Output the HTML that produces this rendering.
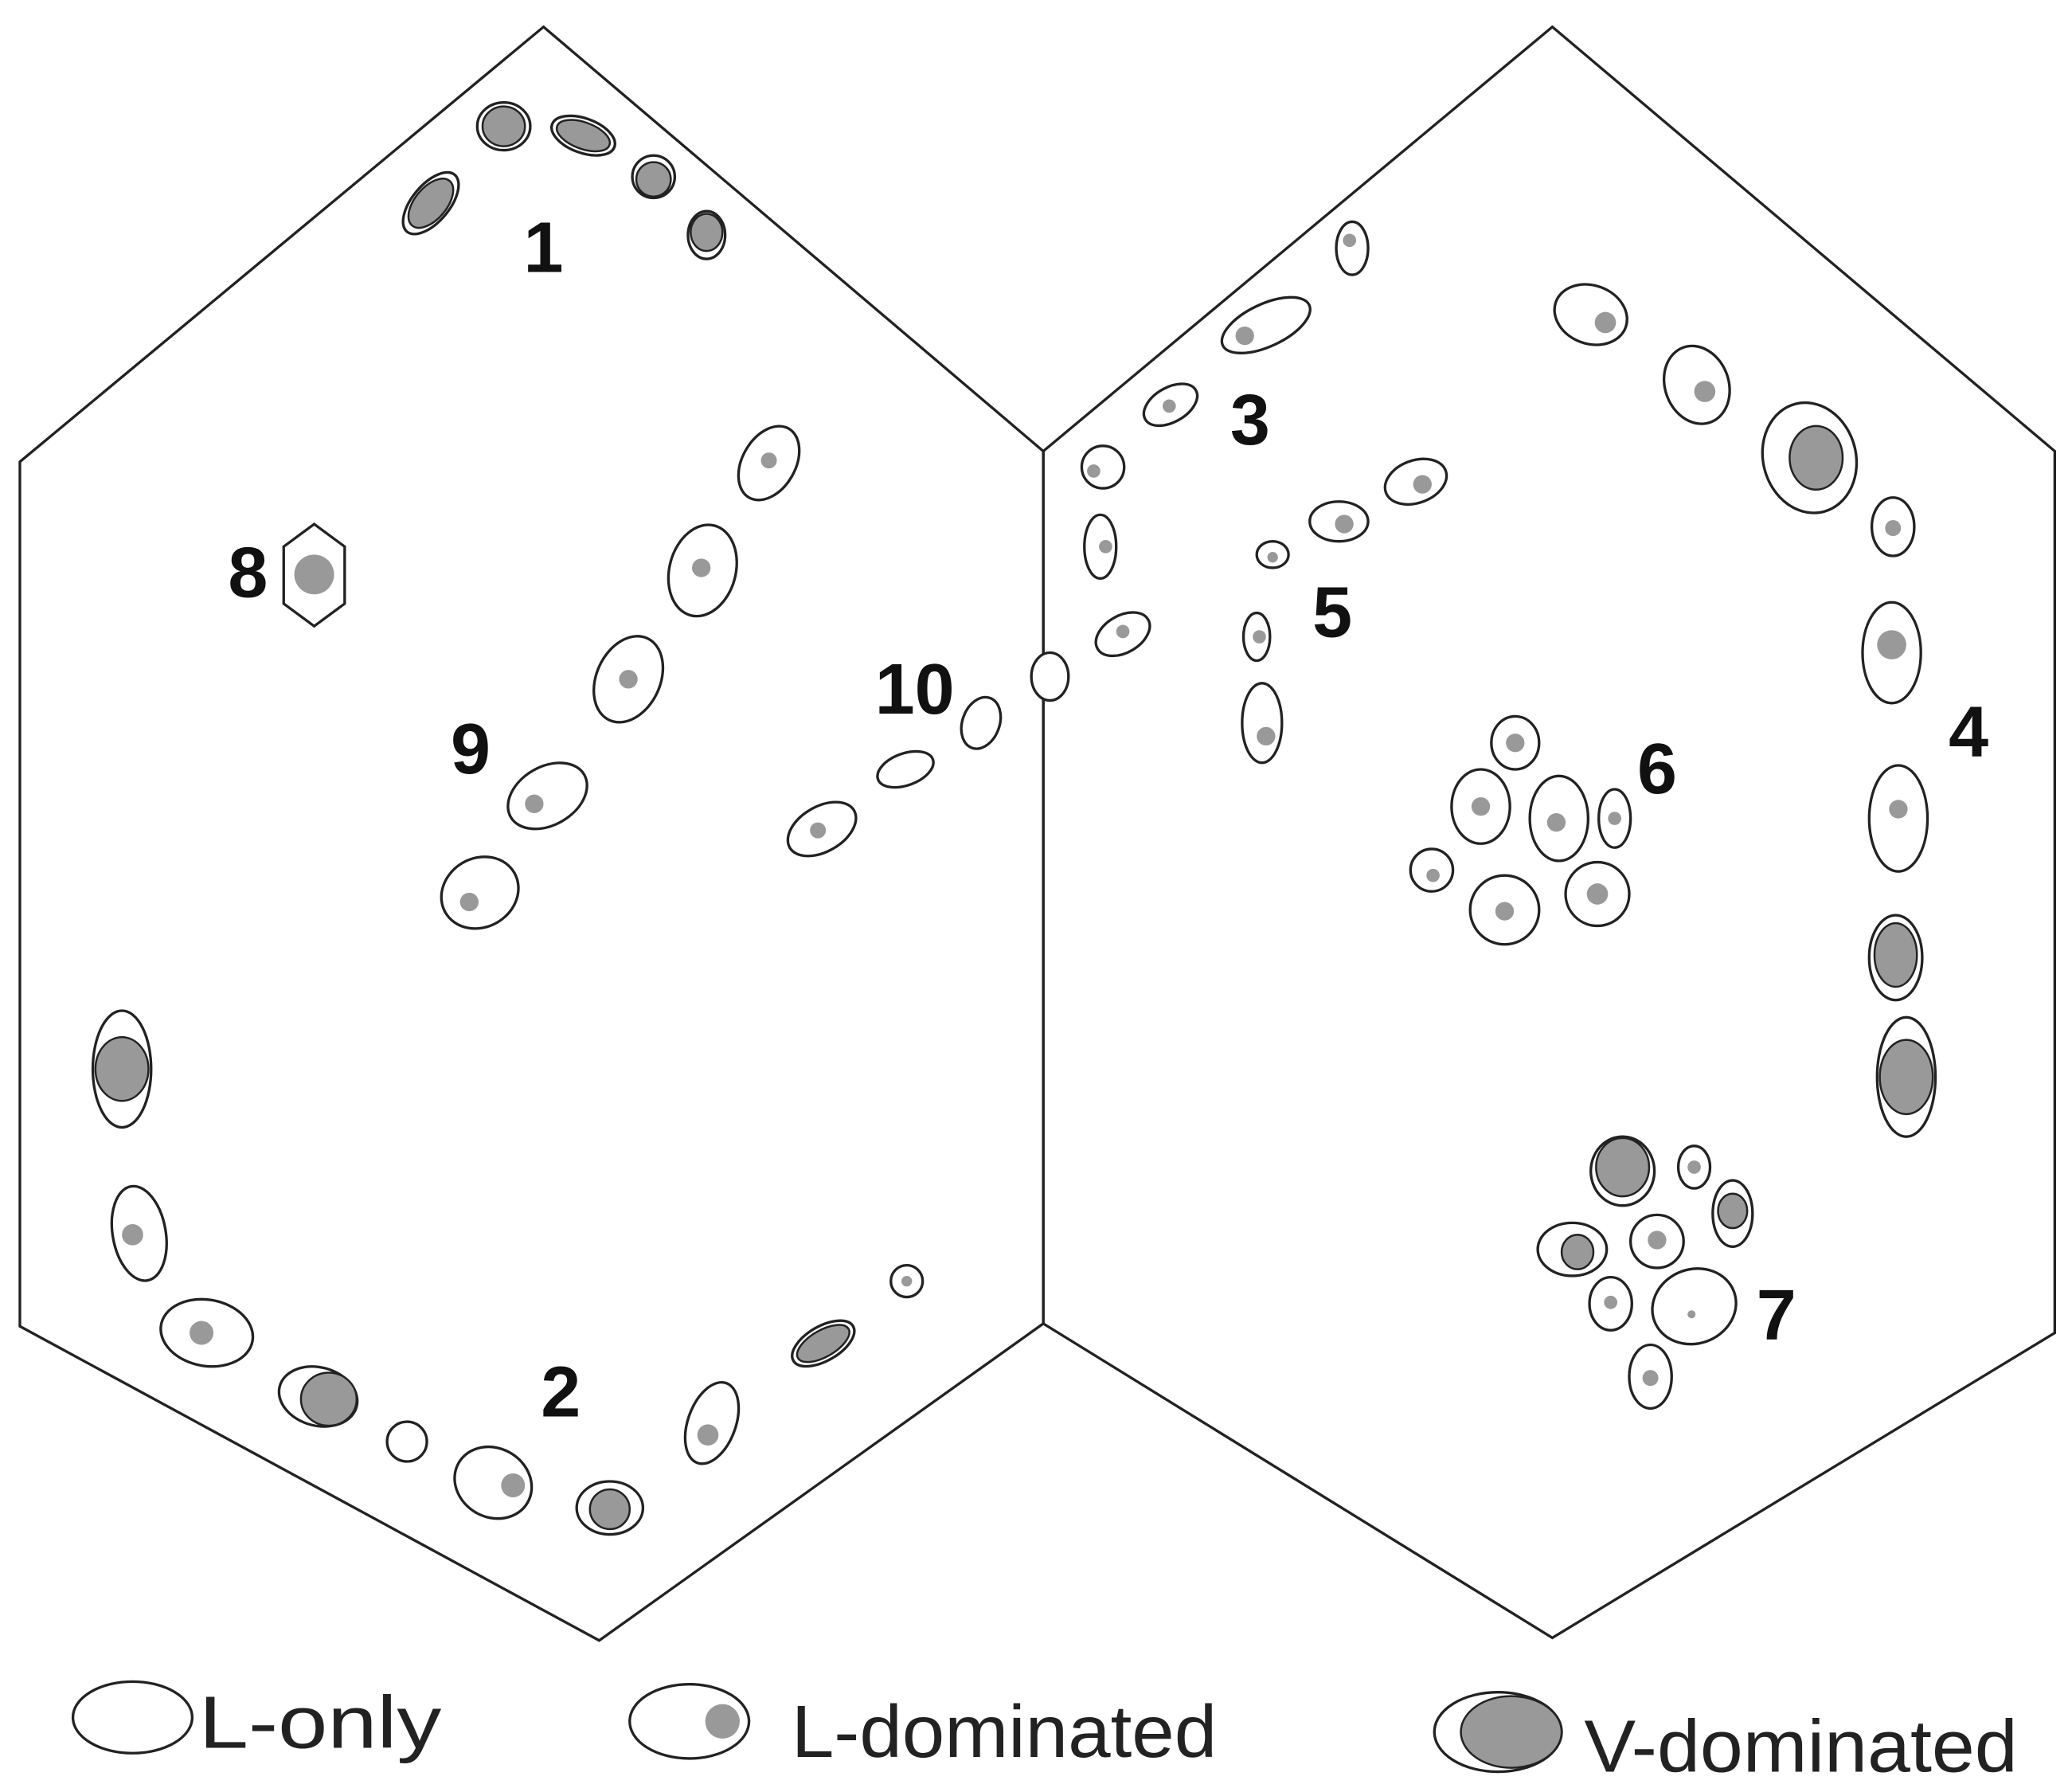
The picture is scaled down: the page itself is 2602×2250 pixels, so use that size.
<!DOCTYPE html>
<html><head><meta charset="utf-8"><style>html,body{margin:0;padding:0;background:#fff}svg{display:block}</style></head>
<body>
<svg width="2602" height="2250" viewBox="0 0 1563 1351" xmlns="http://www.w3.org/2000/svg" font-family="Liberation Sans, sans-serif">
<g fill="none" stroke="#222" stroke-width="2">
<polygon points="410,20 787,340 787,998 452,1237 15,1000 15,348"/>
<polygon points="1171,20 1550,340 1550,1005 1171,1235 787,998 787,340"/>
</g>
<g stroke="#222" stroke-width="2" fill="#fff">
<ellipse cx="325" cy="153" rx="14" ry="28" transform="rotate(40 325 153)"/>
<ellipse cx="380" cy="95" rx="20" ry="18"/>
<ellipse cx="440" cy="102" rx="25" ry="13" transform="rotate(20 440 102)"/>
<ellipse cx="493" cy="133" rx="16" ry="16"/>
<ellipse cx="533" cy="177" rx="14" ry="18"/>
<ellipse cx="1365" cy="345" rx="35" ry="42" transform="rotate(-15 1365 345)"/>
<ellipse cx="1430" cy="722" rx="20" ry="32"/>
<ellipse cx="1438" cy="812" rx="22" ry="45"/>
<ellipse cx="1224" cy="883" rx="24" ry="26"/>
<ellipse cx="1307" cy="915" rx="15" ry="25"/>
<ellipse cx="1186" cy="942" rx="26" ry="20"/>
<ellipse cx="92" cy="806" rx="22" ry="44"/>
<ellipse cx="240" cy="1053" rx="30" ry="22" transform="rotate(15 240 1053)"/>
<ellipse cx="460" cy="1137" rx="25" ry="20"/>
<ellipse cx="621" cy="1013" rx="26" ry="13" transform="rotate(-30 621 1013)"/>
<ellipse cx="580" cy="349" rx="20" ry="30" transform="rotate(30 580 349)"/>
<ellipse cx="530" cy="430" rx="25" ry="35" transform="rotate(15 530 430)"/>
<ellipse cx="474" cy="512" rx="24" ry="34" transform="rotate(25 474 512)"/>
<ellipse cx="413" cy="600" rx="32" ry="22" transform="rotate(-30 413 600)"/>
<ellipse cx="362" cy="673" rx="30" ry="26" transform="rotate(-30 362 673)"/>
<ellipse cx="620" cy="625" rx="28" ry="17" transform="rotate(-30 620 625)"/>
<ellipse cx="683" cy="580" rx="22" ry="12" transform="rotate(-20 683 580)"/>
<ellipse cx="740" cy="545" rx="14" ry="20" transform="rotate(20 740 545)"/>
<ellipse cx="792" cy="510" rx="14" ry="18"/>
<ellipse cx="847" cy="478" rx="22" ry="14" transform="rotate(-30 847 478)"/>
<ellipse cx="1020" cy="187" rx="12" ry="20"/>
<ellipse cx="955" cy="245" rx="36" ry="16" transform="rotate(-25 955 245)"/>
<ellipse cx="883" cy="305" rx="22" ry="13" transform="rotate(-30 883 305)"/>
<ellipse cx="832" cy="352" rx="16" ry="16"/>
<ellipse cx="830" cy="412" rx="12" ry="24"/>
<ellipse cx="1068" cy="363" rx="24" ry="16" transform="rotate(-20 1068 363)"/>
<ellipse cx="1010" cy="393" rx="22" ry="15"/>
<ellipse cx="960" cy="418" rx="12" ry="10"/>
<ellipse cx="948" cy="480" rx="10" ry="18"/>
<ellipse cx="952" cy="545" rx="15" ry="30"/>
<ellipse cx="1200" cy="237" rx="28" ry="22" transform="rotate(20 1200 237)"/>
<ellipse cx="1280" cy="290" rx="24" ry="30" transform="rotate(-20 1280 290)"/>
<ellipse cx="1428" cy="397" rx="16" ry="22"/>
<ellipse cx="1427" cy="492" rx="22" ry="38"/>
<ellipse cx="1432" cy="617" rx="22" ry="40"/>
<ellipse cx="1143" cy="560" rx="18" ry="20"/>
<ellipse cx="1117" cy="608" rx="22" ry="28"/>
<ellipse cx="1176" cy="617" rx="22" ry="32"/>
<ellipse cx="1218" cy="617" rx="12" ry="22"/>
<ellipse cx="1080" cy="656" rx="16" ry="16"/>
<ellipse cx="1135" cy="686" rx="26" ry="26"/>
<ellipse cx="1205" cy="674" rx="24" ry="24"/>
<ellipse cx="1278" cy="880" rx="12" ry="16"/>
<ellipse cx="1250" cy="936" rx="20" ry="20"/>
<ellipse cx="1215" cy="983" rx="16" ry="20"/>
<ellipse cx="1278" cy="985" rx="32" ry="28" transform="rotate(-20 1278 985)"/>
<ellipse cx="1245" cy="1038" rx="16" ry="24"/>
<ellipse cx="105" cy="930" rx="20" ry="36" transform="rotate(-10 105 930)"/>
<ellipse cx="156" cy="1005" rx="35" ry="25" transform="rotate(10 156 1005)"/>
<ellipse cx="307" cy="1087" rx="15" ry="15"/>
<ellipse cx="372" cy="1118" rx="30" ry="26" transform="rotate(30 372 1118)"/>
<ellipse cx="537" cy="1073" rx="18" ry="32" transform="rotate(20 537 1073)"/>
<ellipse cx="684" cy="966" rx="12" ry="12"/>
</g>
<g fill="#999" stroke="#222" stroke-width="1.5">
<ellipse cx="325" cy="153" rx="12" ry="22" transform="rotate(40 325 153)"/>
<ellipse cx="380" cy="95" rx="16" ry="15"/>
<ellipse cx="440" cy="102" rx="21" ry="10" transform="rotate(20 440 102)"/>
<ellipse cx="493" cy="135" rx="13" ry="13"/>
<ellipse cx="533" cy="175" rx="12" ry="14"/>
<ellipse cx="1370" cy="345" rx="20" ry="24"/>
<ellipse cx="1430" cy="720" rx="16" ry="24"/>
<ellipse cx="1438" cy="812" rx="20" ry="28"/>
<ellipse cx="1224" cy="880" rx="20" ry="22"/>
<ellipse cx="1307" cy="913" rx="11" ry="13"/>
<ellipse cx="1190" cy="944" rx="12" ry="13"/>
<ellipse cx="92" cy="806" rx="20" ry="24"/>
<ellipse cx="248" cy="1055" rx="21" ry="20"/>
<ellipse cx="460" cy="1138" rx="15" ry="15"/>
<ellipse cx="621" cy="1013" rx="22" ry="10" transform="rotate(-30 621 1013)"/>
</g>
<g fill="#999">
<circle cx="580" cy="347" r="6"/><circle cx="529" cy="428" r="7"/><circle cx="474" cy="512" r="7"/><circle cx="403" cy="606" r="7"/><circle cx="354" cy="680" r="7"/>
<circle cx="617" cy="626" r="6"/><circle cx="847" cy="476" r="5"/>
<circle cx="1018" cy="181" r="5"/><circle cx="939" cy="253" r="7"/><circle cx="882" cy="306" r="5"/><circle cx="825" cy="355" r="5"/><circle cx="834" cy="412" r="5"/>
<circle cx="1073" cy="365" r="7"/><circle cx="1014" cy="395" r="7"/><circle cx="960" cy="420" r="4"/><circle cx="950" cy="480" r="5"/><circle cx="955" cy="555" r="7"/>
<circle cx="1211" cy="243" r="8"/><circle cx="1286" cy="295" r="8"/><circle cx="1428" cy="398" r="6"/><circle cx="1427" cy="486" r="11"/><circle cx="1432" cy="610" r="7"/>
<circle cx="1143" cy="560" r="7"/><circle cx="1117" cy="608" r="7"/><circle cx="1174" cy="620" r="7"/><circle cx="1218" cy="617" r="5"/><circle cx="1081" cy="660" r="5"/><circle cx="1135" cy="687" r="7"/><circle cx="1205" cy="674" r="8"/>
<circle cx="1278" cy="880" r="5"/><circle cx="1250" cy="935" r="7"/><circle cx="1215" cy="982" r="5"/><circle cx="1276" cy="991" r="3"/><circle cx="1245" cy="1039" r="6"/>
<circle cx="100" cy="931" r="8"/><circle cx="152" cy="1005" r="9"/><circle cx="387" cy="1120" r="9"/><circle cx="534" cy="1082" r="8"/><circle cx="684" cy="966" r="4"/>
</g>
<polygon points="237,395 260,412 260,455 237,472 214,455 214,412" fill="#fff" stroke="#222" stroke-width="2"/>
<circle cx="237" cy="433" r="15" fill="#999"/>
<g font-weight="bold" font-size="54" text-anchor="middle" fill="#111">
<text x="410" y="205">1</text><text x="943" y="335">3</text><text x="1005" y="480">5</text>
<text x="690" y="538">10</text><text x="355" y="583">9</text><text x="187" y="450">8</text>
<text x="1250" y="598">6</text><text x="1485" y="570">4</text><text x="1340" y="1010">7</text><text x="423" y="1068">2</text>
</g>
<g stroke="#222" stroke-width="2" fill="#fff">
<ellipse cx="100" cy="1295" rx="45" ry="27"/>
<ellipse cx="520" cy="1298" rx="45" ry="28"/>
<ellipse cx="1130" cy="1306" rx="48" ry="30"/>
</g>
<circle cx="545" cy="1298" r="13" fill="#999"/>
<ellipse cx="1140" cy="1306" rx="38" ry="27" fill="#999" stroke="#222" stroke-width="1.5"/>
<g font-size="56" fill="#222">
<text x="150" y="1318" textLength="183" lengthAdjust="spacingAndGlyphs">L-only</text>
<text x="597" y="1325" textLength="321" lengthAdjust="spacingAndGlyphs">L-dominated</text>
<text x="1195" y="1336" textLength="327" lengthAdjust="spacingAndGlyphs">V-dominated</text>
</g>
</svg>
</body></html>
